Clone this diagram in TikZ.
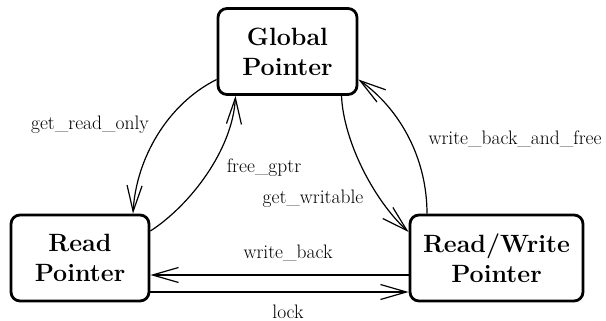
\documentclass[tikz,border=0pt]{standalone}
\usepackage{fontspec}
\usetikzlibrary{arrows.meta}
\begin{document}
\begin{tikzpicture}[x=1pt,y=-1pt]
        \tikzstyle{pointer}=[rectangle,rounded corners=9pt,line width=2.8pt,draw=black,align=center,
          font=\fontsize{25}{30}\selectfont\bfseries,minimum height=86pt,inner sep=0pt]
        \tikzstyle{edge}=[draw,line width=1.2pt,-{Straight Barb[length=26pt,width=15pt,line width=1.2pt]}]
        \tikzstyle{lbl}=[anchor=base,inner sep=0pt,font=\fontsize{19.5}{22}\selectfont]
        \useasboundingbox (0,0) rectangle (606,321);
       \begin{scope}
         \node [pointer,minimum width=139pt] (gp)  at (287.5,51.5) {Global\\Pointer};
         \node [pointer,minimum width=138pt] (rp)  at (80,258)     {Read\\Pointer};
         \node [pointer,minimum width=173pt] (rwp) at (496.5,258)  {Read/Write\\Pointer};
         % global <-> read
         \path[edge] ([yshift=-28pt]gp.west) .. controls +(-50,25) and +(3,-54) .. ([xshift=53pt]rp.north);
         \path[edge] ([yshift=27pt]rp.east) .. controls +(40,-26) and +(-3,54) .. ([xshift=-52pt]gp.south);
         % global <-> read/write
         \path[edge] ([xshift=54pt]gp.south) .. controls +(2,45) and +(-35,-32) .. ([yshift=26pt]rwp.west);
         \path[edge] ([xshift=-69.5pt]rwp.north) .. controls +(0,-55) and +(42,30) .. ([yshift=-28pt]gp.east);
         % read <-> read/write
         \path[edge] ([yshift=-17pt]rwp.west) -- ([yshift=-17pt]rp.east);
         \path[edge] ([yshift=-34pt]rp.east) -- ([yshift=-34pt]rwp.west);
         \node [lbl] (l1) at (90,130)  {get\_read\_only};
         \node [lbl] (l2) at (264,172) {free\_gptr};
         \node [lbl] (l3) at (313,204) {get\_writable};
         \node [lbl] (l4) at (515,145) {write\_back\_and\_free};
         \node [lbl] (l5) at (288,258) {write\_back};
         \node [lbl] (l6) at (288,318) {lock};
        \end{scope}
      \end{tikzpicture}
\end{document}
